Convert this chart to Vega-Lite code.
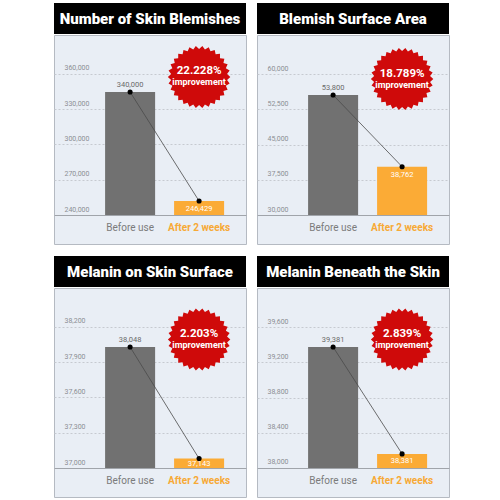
{
  "$schema": "https://vega.github.io/schema/vega-lite/v6.json",
  "padding": {"left": 53, "top": 3, "right": 0, "bottom": 0},
  "background": "#ffffff",
  "config": {
    "font": "Roboto",
    "axisY": {"title": null, "domain": false, "ticks": false, "tickSize": 0, "labelAlign": "left", "labelPadding": -10, "labelBaseline": "bottom", "labelOffset": -3, "labelFontSize": 7, "labelColor": "#8c8f94", "gridColor": "#c6cad0", "gridDash": [2, 2], "labelFlush": false, "labelOverlap": false}
  },
  "spacing": 11,
  "vconcat": [
    {
      "spacing": 9,
      "hconcat": [
        {
          "spacing": 0,
          "vconcat": [
            {"width": 192, "height": 31, "view": {"fill": "#000000", "stroke": null},
             "data": {"values": [{"title": "Number of Skin Blemishes"}]},
             "mark": {"type": "text", "color": "#ffffff", "fontSize": 15, "fontWeight": 900, "align": "center", "baseline": "middle"},
             "encoding": {"text": {"field": "title"}}},
            {"width": 192, "height": 209, "view": {"fill": "#e9eef5", "stroke": "#b5bac2"},
             "data": {"values": [
               {"period": "Before use", "value": 344700, "label": "340,000", "badge": ""},
               {"period": "After 2 weeks", "value": 251900, "label": "246,429", "badge": "22.228%"}]},
             "encoding": {
               "x": {"field": "period", "type": "nominal", "sort": null,
                     "scale": {"domain": ["Before use", "After 2 weeks"], "paddingInner": 0.275, "paddingOuter": 0.529, "align": 0.7},
                     "axis": {"orient": "bottom", "offset": -29, "title": null, "domainColor": "#a0a4aa", "domainWidth": 1, "ticks": false, "labelPadding": 7, "labelFontSize": 10, "labelAngle": 0, "grid": false,
                              "labelColor": {"condition": {"test": "datum.value === 'After 2 weeks'", "value": "#f7a936"}, "value": "#7b7b7b"},
                              "labelFontWeight": {"condition": {"test": "datum.value === 'After 2 weeks'", "value": "bold"}, "value": "normal"}}},
               "y": {"field": "value", "type": "quantitative", "scale": {"domain": [215320, 393190], "nice": false, "zero": false},
                     "axis": {"values": [240000, 270000, 300000, 330000, 360000], "format": ",d"}}},
             "layer": [
               {"mark": {"type": "bar"}, "encoding": {"y2": {"datum": 240000}, "color": {"field": "period", "type": "nominal", "scale": {"domain": ["Before use", "After 2 weeks"], "range": ["#717171", "#fbab36"]}, "legend": null}}},
               {"mark": {"type": "line", "stroke": "#4a4a4a", "strokeWidth": 0.8}, "encoding": {}},
               {"mark": {"type": "circle", "color": "#000000", "opacity": 1, "size": 26}, "encoding": {}},
               {"transform": [{"filter": "datum.period === 'Before use'"}], "mark": {"type": "text", "dy": -7, "fontSize": 7.5, "color": "#6a6a6a"}, "encoding": {"text": {"field": "label"}}},
               {"transform": [{"filter": "datum.period === 'After 2 weeks'"}], "mark": {"type": "text", "dy": 8, "fontSize": 7.5, "color": "#ffffff"}, "encoding": {"text": {"field": "label"}}},
               {"transform": [{"filter": "datum.period === 'After 2 weeks'"}], "mark": {"type": "point", "shape": "M1,0L0.8951,0.0941L0.9781,0.2079L0.856,0.2781L0.9135,0.4067L0.7794,0.45L0.809,0.5878L0.6688,0.6022L0.6691,0.7431L0.529,0.7281L0.5,0.866L0.3661,0.8222L0.309,0.9511L0.1871,0.8803L0.1045,0.9945L0,0.9L-0.1045,0.9945L-0.1871,0.8803L-0.309,0.9511L-0.3661,0.8222L-0.5,0.866L-0.529,0.7281L-0.6691,0.7431L-0.6688,0.6022L-0.809,0.5878L-0.7794,0.45L-0.9135,0.4067L-0.856,0.2781L-0.9781,0.2079L-0.8951,0.0941L-1,0L-0.8951,-0.0941L-0.9781,-0.2079L-0.856,-0.2781L-0.9135,-0.4067L-0.7794,-0.45L-0.809,-0.5878L-0.6688,-0.6022L-0.6691,-0.7431L-0.529,-0.7281L-0.5,-0.866L-0.3661,-0.8222L-0.309,-0.9511L-0.1871,-0.8803L-0.1045,-0.9945L0,-0.9L0.1045,-0.9945L0.1871,-0.8803L0.309,-0.9511L0.3661,-0.8222L0.5,-0.866L0.529,-0.7281L0.6691,-0.7431L0.6688,-0.6022L0.809,-0.5878L0.7794,-0.45L0.9135,-0.4067L0.856,-0.2781L0.9781,-0.2079L0.8951,-0.0941Z", "filled": true, "fill": "#cf0a0a", "strokeWidth": 0, "opacity": 1, "size": 3900}, "encoding": {"y": {"datum": 357450}}},
               {"transform": [{"filter": "datum.period === 'After 2 weeks'"}], "mark": {"type": "text", "dy": -5.5, "fontSize": 11.5, "fontWeight": "bold", "color": "#ffffff"}, "encoding": {"y": {"datum": 357450}, "text": {"field": "badge"}}},
               {"transform": [{"filter": "datum.period === 'After 2 weeks'"}], "mark": {"type": "text", "dy": 5.5, "fontSize": 9, "fontWeight": "bold", "color": "#ffffff", "text": "improvement"}, "encoding": {"y": {"datum": 357450}}}
             ]}
          ]
        },
        {
          "spacing": 0,
          "vconcat": [
            {"width": 192, "height": 31, "view": {"fill": "#000000", "stroke": null},
             "data": {"values": [{"title": "Blemish Surface Area"}]},
             "mark": {"type": "text", "color": "#ffffff", "fontSize": 15, "fontWeight": 900, "align": "center", "baseline": "middle"},
             "encoding": {"text": {"field": "title"}}},
            {"width": 192, "height": 209, "view": {"fill": "#e9eef5", "stroke": "#b5bac2"},
             "data": {"values": [
               {"period": "Before use", "value": 55530, "label": "53,800", "badge": ""},
               {"period": "After 2 weeks", "value": 40280, "label": "38,762", "badge": "18.789%"}]},
             "encoding": {
               "x": {"field": "period", "type": "nominal", "sort": null,
                     "scale": {"domain": ["Before use", "After 2 weeks"], "paddingInner": 0.275, "paddingOuter": 0.529, "align": 0.7},
                     "axis": {"orient": "bottom", "offset": -29, "title": null, "domainColor": "#a0a4aa", "domainWidth": 1, "ticks": false, "labelPadding": 7, "labelFontSize": 10, "labelAngle": 0, "grid": false,
                              "labelColor": {"condition": {"test": "datum.value === 'After 2 weeks'", "value": "#f7a936"}, "value": "#7b7b7b"},
                              "labelFontWeight": {"condition": {"test": "datum.value === 'After 2 weeks'", "value": "bold"}, "value": "normal"}}},
               "y": {"field": "value", "type": "quantitative", "scale": {"domain": [23830, 68298], "nice": false, "zero": false},
                     "axis": {"values": [30000, 37500, 45000, 52500, 60000], "format": ",d"}}},
             "layer": [
               {"mark": {"type": "bar"}, "encoding": {"y2": {"datum": 30000}, "color": {"field": "period", "type": "nominal", "scale": {"domain": ["Before use", "After 2 weeks"], "range": ["#717171", "#fbab36"]}, "legend": null}}},
               {"mark": {"type": "line", "stroke": "#4a4a4a", "strokeWidth": 0.8}, "encoding": {}},
               {"mark": {"type": "circle", "color": "#000000", "opacity": 1, "size": 26}, "encoding": {}},
               {"transform": [{"filter": "datum.period === 'Before use'"}], "mark": {"type": "text", "dy": -7, "fontSize": 7.5, "color": "#6a6a6a"}, "encoding": {"text": {"field": "label"}}},
               {"transform": [{"filter": "datum.period === 'After 2 weeks'"}], "mark": {"type": "text", "dy": 8, "fontSize": 7.5, "color": "#ffffff"}, "encoding": {"text": {"field": "label"}}},
               {"transform": [{"filter": "datum.period === 'After 2 weeks'"}], "mark": {"type": "point", "shape": "M1,0L0.8951,0.0941L0.9781,0.2079L0.856,0.2781L0.9135,0.4067L0.7794,0.45L0.809,0.5878L0.6688,0.6022L0.6691,0.7431L0.529,0.7281L0.5,0.866L0.3661,0.8222L0.309,0.9511L0.1871,0.8803L0.1045,0.9945L0,0.9L-0.1045,0.9945L-0.1871,0.8803L-0.309,0.9511L-0.3661,0.8222L-0.5,0.866L-0.529,0.7281L-0.6691,0.7431L-0.6688,0.6022L-0.809,0.5878L-0.7794,0.45L-0.9135,0.4067L-0.856,0.2781L-0.9781,0.2079L-0.8951,0.0941L-1,0L-0.8951,-0.0941L-0.9781,-0.2079L-0.856,-0.2781L-0.9135,-0.4067L-0.7794,-0.45L-0.809,-0.5878L-0.6688,-0.6022L-0.6691,-0.7431L-0.529,-0.7281L-0.5,-0.866L-0.3661,-0.8222L-0.309,-0.9511L-0.1871,-0.8803L-0.1045,-0.9945L0,-0.9L0.1045,-0.9945L0.1871,-0.8803L0.309,-0.9511L0.3661,-0.8222L0.5,-0.866L0.529,-0.7281L0.6691,-0.7431L0.6688,-0.6022L0.809,-0.5878L0.7794,-0.45L0.9135,-0.4067L0.856,-0.2781L0.9781,-0.2079L0.8951,-0.0941Z", "filled": true, "fill": "#cf0a0a", "strokeWidth": 0, "opacity": 1, "size": 3900}, "encoding": {"y": {"datum": 58936}}},
               {"transform": [{"filter": "datum.period === 'After 2 weeks'"}], "mark": {"type": "text", "dy": -5.5, "fontSize": 11.5, "fontWeight": "bold", "color": "#ffffff"}, "encoding": {"y": {"datum": 58936}, "text": {"field": "badge"}}},
               {"transform": [{"filter": "datum.period === 'After 2 weeks'"}], "mark": {"type": "text", "dy": 5.5, "fontSize": 9, "fontWeight": "bold", "color": "#ffffff", "text": "improvement"}, "encoding": {"y": {"datum": 58936}}}
             ]}
          ]
        }
      ]
    },
    {
      "spacing": 9,
      "hconcat": [
        {
          "spacing": 0,
          "vconcat": [
            {"width": 192, "height": 31, "view": {"fill": "#000000", "stroke": null},
             "data": {"values": [{"title": "Melanin on Skin Surface"}]},
             "mark": {"type": "text", "color": "#ffffff", "fontSize": 15, "fontWeight": 900, "align": "center", "baseline": "middle"},
             "encoding": {"text": {"field": "title"}}},
            {"width": 192, "height": 209, "view": {"fill": "#e9eef5", "stroke": "#b5bac2"},
             "data": {"values": [
               {"period": "Before use", "value": 38030, "label": "38,048", "badge": ""},
               {"period": "After 2 weeks", "value": 37080, "label": "37,143", "badge": "2.203%"}]},
             "encoding": {
               "x": {"field": "period", "type": "nominal", "sort": null,
                     "scale": {"domain": ["Before use", "After 2 weeks"], "paddingInner": 0.275, "paddingOuter": 0.529, "align": 0.7},
                     "axis": {"orient": "bottom", "offset": -29, "title": null, "domainColor": "#a0a4aa", "domainWidth": 1, "ticks": false, "labelPadding": 7, "labelFontSize": 10, "labelAngle": 0, "grid": false,
                              "labelColor": {"condition": {"test": "datum.value === 'After 2 weeks'", "value": "#f7a936"}, "value": "#7b7b7b"},
                              "labelFontWeight": {"condition": {"test": "datum.value === 'After 2 weeks'", "value": "bold"}, "value": "normal"}}},
               "y": {"field": "value", "type": "quantitative", "scale": {"domain": [36753.2, 38531.9], "nice": false, "zero": false},
                     "axis": {"values": [37000, 37300, 37600, 37900, 38200], "format": ",d"}}},
             "layer": [
               {"mark": {"type": "bar"}, "encoding": {"y2": {"datum": 37000}, "color": {"field": "period", "type": "nominal", "scale": {"domain": ["Before use", "After 2 weeks"], "range": ["#717171", "#fbab36"]}, "legend": null}}},
               {"mark": {"type": "line", "stroke": "#4a4a4a", "strokeWidth": 0.8}, "encoding": {}},
               {"mark": {"type": "circle", "color": "#000000", "opacity": 1, "size": 26}, "encoding": {}},
               {"transform": [{"filter": "datum.period === 'Before use'"}], "mark": {"type": "text", "dy": -7, "fontSize": 7.5, "color": "#6a6a6a"}, "encoding": {"text": {"field": "label"}}},
               {"transform": [{"filter": "datum.period === 'After 2 weeks'"}], "mark": {"type": "text", "dy": 5, "fontSize": 7.5, "color": "#ffffff"}, "encoding": {"text": {"field": "label"}}},
               {"transform": [{"filter": "datum.period === 'After 2 weeks'"}], "mark": {"type": "point", "shape": "M1,0L0.8951,0.0941L0.9781,0.2079L0.856,0.2781L0.9135,0.4067L0.7794,0.45L0.809,0.5878L0.6688,0.6022L0.6691,0.7431L0.529,0.7281L0.5,0.866L0.3661,0.8222L0.309,0.9511L0.1871,0.8803L0.1045,0.9945L0,0.9L-0.1045,0.9945L-0.1871,0.8803L-0.309,0.9511L-0.3661,0.8222L-0.5,0.866L-0.529,0.7281L-0.6691,0.7431L-0.6688,0.6022L-0.809,0.5878L-0.7794,0.45L-0.9135,0.4067L-0.856,0.2781L-0.9781,0.2079L-0.8951,0.0941L-1,0L-0.8951,-0.0941L-0.9781,-0.2079L-0.856,-0.2781L-0.9135,-0.4067L-0.7794,-0.45L-0.809,-0.5878L-0.6688,-0.6022L-0.6691,-0.7431L-0.529,-0.7281L-0.5,-0.866L-0.3661,-0.8222L-0.309,-0.9511L-0.1871,-0.8803L-0.1045,-0.9945L0,-0.9L0.1045,-0.9945L0.1871,-0.8803L0.309,-0.9511L0.3661,-0.8222L0.5,-0.866L0.529,-0.7281L0.6691,-0.7431L0.6688,-0.6022L0.809,-0.5878L0.7794,-0.45L0.9135,-0.4067L0.856,-0.2781L0.9781,-0.2079L0.8951,-0.0941Z", "filled": true, "fill": "#cf0a0a", "strokeWidth": 0, "opacity": 1, "size": 3900}, "encoding": {"y": {"datum": 38093.6}}},
               {"transform": [{"filter": "datum.period === 'After 2 weeks'"}], "mark": {"type": "text", "dy": -5.5, "fontSize": 11.5, "fontWeight": "bold", "color": "#ffffff"}, "encoding": {"y": {"datum": 38093.6}, "text": {"field": "badge"}}},
               {"transform": [{"filter": "datum.period === 'After 2 weeks'"}], "mark": {"type": "text", "dy": 5.5, "fontSize": 9, "fontWeight": "bold", "color": "#ffffff", "text": "improvement"}, "encoding": {"y": {"datum": 38093.6}}}
             ]}
          ]
        },
        {
          "spacing": 0,
          "vconcat": [
            {"width": 192, "height": 31, "view": {"fill": "#000000", "stroke": null},
             "data": {"values": [{"title": "Melanin Beneath the Skin"}]},
             "mark": {"type": "text", "color": "#ffffff", "fontSize": 15, "fontWeight": 900, "align": "center", "baseline": "middle"},
             "encoding": {"text": {"field": "title"}}},
            {"width": 192, "height": 209, "view": {"fill": "#e9eef5", "stroke": "#b5bac2"},
             "data": {"values": [
               {"period": "Before use", "value": 39373, "label": "39,381", "badge": ""},
               {"period": "After 2 weeks", "value": 38160, "label": "38,381", "badge": "2.839%"}]},
             "encoding": {
               "x": {"field": "period", "type": "nominal", "sort": null,
                     "scale": {"domain": ["Before use", "After 2 weeks"], "paddingInner": 0.275, "paddingOuter": 0.529, "align": 0.7},
                     "axis": {"orient": "bottom", "offset": -29, "title": null, "domainColor": "#a0a4aa", "domainWidth": 1, "ticks": false, "labelPadding": 7, "labelFontSize": 10, "labelAngle": 0, "grid": false,
                              "labelColor": {"condition": {"test": "datum.value === 'After 2 weeks'", "value": "#f7a936"}, "value": "#7b7b7b"},
                              "labelFontWeight": {"condition": {"test": "datum.value === 'After 2 weeks'", "value": "bold"}, "value": "normal"}}},
               "y": {"field": "value", "type": "quantitative", "scale": {"domain": [37670.9, 40042.6], "nice": false, "zero": false},
                     "axis": {"values": [38000, 38400, 38800, 39200, 39600], "format": ",d"}}},
             "layer": [
               {"mark": {"type": "bar"}, "encoding": {"y2": {"datum": 38000}, "color": {"field": "period", "type": "nominal", "scale": {"domain": ["Before use", "After 2 weeks"], "range": ["#717171", "#fbab36"]}, "legend": null}}},
               {"mark": {"type": "line", "stroke": "#4a4a4a", "strokeWidth": 0.8}, "encoding": {}},
               {"mark": {"type": "circle", "color": "#000000", "opacity": 1, "size": 26}, "encoding": {}},
               {"transform": [{"filter": "datum.period === 'Before use'"}], "mark": {"type": "text", "dy": -7, "fontSize": 7.5, "color": "#6a6a6a"}, "encoding": {"text": {"field": "label"}}},
               {"transform": [{"filter": "datum.period === 'After 2 weeks'"}], "mark": {"type": "text", "dy": 7, "fontSize": 7.5, "color": "#ffffff"}, "encoding": {"text": {"field": "label"}}},
               {"transform": [{"filter": "datum.period === 'After 2 weeks'"}], "mark": {"type": "point", "shape": "M1,0L0.8951,0.0941L0.9781,0.2079L0.856,0.2781L0.9135,0.4067L0.7794,0.45L0.809,0.5878L0.6688,0.6022L0.6691,0.7431L0.529,0.7281L0.5,0.866L0.3661,0.8222L0.309,0.9511L0.1871,0.8803L0.1045,0.9945L0,0.9L-0.1045,0.9945L-0.1871,0.8803L-0.309,0.9511L-0.3661,0.8222L-0.5,0.866L-0.529,0.7281L-0.6691,0.7431L-0.6688,0.6022L-0.809,0.5878L-0.7794,0.45L-0.9135,0.4067L-0.856,0.2781L-0.9781,0.2079L-0.8951,0.0941L-1,0L-0.8951,-0.0941L-0.9781,-0.2079L-0.856,-0.2781L-0.9135,-0.4067L-0.7794,-0.45L-0.809,-0.5878L-0.6688,-0.6022L-0.6691,-0.7431L-0.529,-0.7281L-0.5,-0.866L-0.3661,-0.8222L-0.309,-0.9511L-0.1871,-0.8803L-0.1045,-0.9945L0,-0.9L0.1045,-0.9945L0.1871,-0.8803L0.309,-0.9511L0.3661,-0.8222L0.5,-0.866L0.529,-0.7281L0.6691,-0.7431L0.6688,-0.6022L0.809,-0.5878L0.7794,-0.45L0.9135,-0.4067L0.856,-0.2781L0.9781,-0.2079L0.8951,-0.0941Z", "filled": true, "fill": "#cf0a0a", "strokeWidth": 0, "opacity": 1, "size": 3900}, "encoding": {"y": {"datum": 39458}}},
               {"transform": [{"filter": "datum.period === 'After 2 weeks'"}], "mark": {"type": "text", "dy": -5.5, "fontSize": 11.5, "fontWeight": "bold", "color": "#ffffff"}, "encoding": {"y": {"datum": 39458}, "text": {"field": "badge"}}},
               {"transform": [{"filter": "datum.period === 'After 2 weeks'"}], "mark": {"type": "text", "dy": 5.5, "fontSize": 9, "fontWeight": "bold", "color": "#ffffff", "text": "improvement"}, "encoding": {"y": {"datum": 39458}}}
             ]}
          ]
        }
      ]
    }
  ]
}
